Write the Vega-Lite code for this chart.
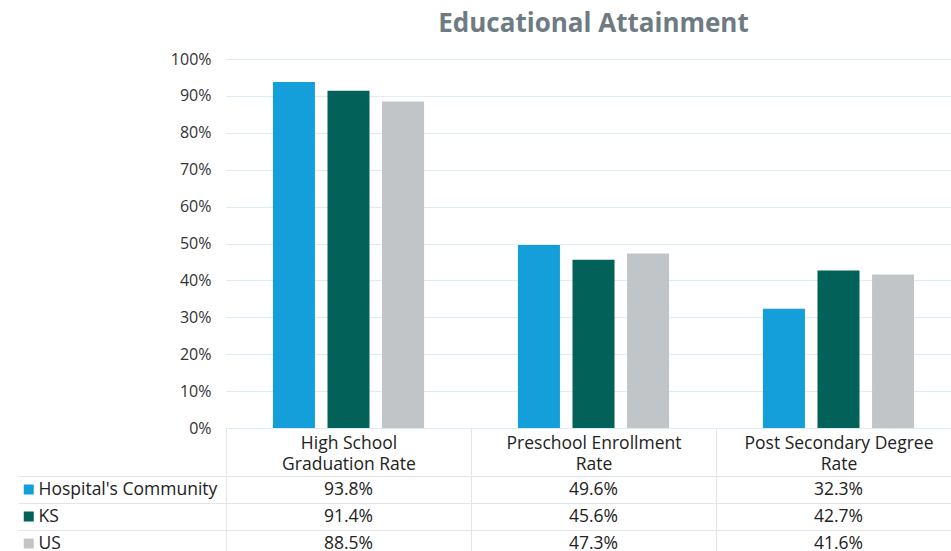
{
  "$schema": "https://vega.github.io/schema/vega-lite/v6.json",
  "padding": {"left": 17, "top": 11, "right": 0, "bottom": 0},
  "config": {"view": {"stroke": null}, "font": "Open Sans"},
  "data": {"values": [
    {"category": "High School Graduation Rate", "series": "Hospital's Community", "value": 0.938},
    {"category": "High School Graduation Rate", "series": "KS", "value": 0.914},
    {"category": "High School Graduation Rate", "series": "US", "value": 0.885},
    {"category": "Preschool Enrollment Rate", "series": "Hospital's Community", "value": 0.496},
    {"category": "Preschool Enrollment Rate", "series": "KS", "value": 0.456},
    {"category": "Preschool Enrollment Rate", "series": "US", "value": 0.473},
    {"category": "Post Secondary Degree Rate", "series": "Hospital's Community", "value": 0.323},
    {"category": "Post Secondary Degree Rate", "series": "KS", "value": 0.427},
    {"category": "Post Secondary Degree Rate", "series": "US", "value": 0.416}
  ]},
  "spacing": -4,
  "resolve": {"legend": {"color": "independent"}},
  "vconcat": [
    {
      "title": {"text": "Educational Attainment", "fontSize": 26, "fontWeight": "bold", "color": "#6e7b83", "frame": "group", "anchor": "middle", "offset": 14},
      "width": 735,
      "height": 369,
      "mark": {"type": "bar"},
      "encoding": {
        "x": {"field": "category", "type": "nominal", "sort": null,
          "scale": {"paddingInner": 0, "paddingOuter": 0},
          "axis": {"title": null, "labelAngle": 0, "domain": false, "ticks": true, "tickBand": "extent", "tickSize": 47, "tickColor": "#e3e6e9", "labelPadding": -41, "labelFontSize": 17.5, "labelColor": "#222222", "labelLineHeight": 21, "labelLimit": 300,
            "labelExpr": "datum.value == 'High School Graduation Rate' ? ['High School', 'Graduation Rate'] : datum.value == 'Preschool Enrollment Rate' ? ['Preschool Enrollment', 'Rate'] : datum.value == 'Post Secondary Degree Rate' ? ['Post Secondary Degree', 'Rate'] : ''"}},
        "xOffset": {"field": "series", "type": "nominal", "sort": null, "scale": {"paddingInner": 0.23, "paddingOuter": 0.86}},
        "y": {"field": "value", "type": "quantitative", "scale": {"domain": [0, 1]},
          "axis": {"title": null, "format": "%", "values": [0, 0.1, 0.2, 0.3, 0.4, 0.5, 0.6, 0.7, 0.8, 0.9, 1], "domain": false, "ticks": false, "labelPadding": 15, "labelFontSize": 16, "labelColor": "#333333", "gridColor": "#dcedf8"}},
        "color": {"field": "series", "type": "nominal", "sort": null,
          "scale": {"domain": ["Hospital's Community", "KS", "US"], "range": ["#149fdb", "#02625a", "#c1c5c7"]},
          "legend": null}
      }
    },
    {
      "width": 735,
      "height": {"step": 27},
      "resolve": {"axis": {"y": "independent"}},
      "encoding": {
        "x": {"field": "category", "type": "nominal", "sort": null,
          "scale": {"paddingInner": 0, "paddingOuter": 0},
          "axis": {"orient": "top", "title": null, "labels": false, "ticks": false, "domain": false, "grid": true, "tickBand": "extent", "gridColor": "#e3e6e9"}}
      },
      "layer": [
        {
          "mark": {"type": "text", "fontSize": 17.5, "color": "#222222"},
          "encoding": {
            "y": {"field": "series", "type": "nominal", "sort": null,
              "scale": {"domain": ["Hospital's Community", "KS", "US"], "paddingInner": 0, "paddingOuter": 0},
              "axis": {"title": null, "labels": false, "ticks": true, "tickBand": "extent", "tickSize": 208, "tickColor": "#e3e6e9", "grid": true, "gridColor": "#e3e6e9", "domain": true, "domainColor": "#e3e6e9"}},
            "text": {"field": "value", "type": "quantitative", "format": ".1%"}
          }
        },
        {
          "mark": {"type": "square", "opacity": 0},
          "encoding": {
            "y": {"field": "series", "type": "nominal", "sort": null,
              "axis": {"orient": "left", "title": null, "labels": false, "ticks": false, "grid": false, "domain": true, "domainColor": "#e3e6e9"}},
            "color": {"field": "series", "type": "nominal", "sort": null,
              "scale": {"domain": ["Hospital's Community", "KS", "US"], "range": ["#149fdb", "#02625a", "#c1c5c7"]},
              "legend": {"orient": "none", "legendX": -206, "legendY": 0, "title": null, "padding": 0, "symbolType": "square", "symbolSize": 100, "symbolOpacity": 1, "symbolStrokeWidth": 0, "labelFontSize": 17.5, "labelColor": "#222222", "labelOffset": 1, "labelLimit": 300, "clipHeight": 27, "rowPadding": 0}}
          }
        }
      ]
    }
  ]
}
